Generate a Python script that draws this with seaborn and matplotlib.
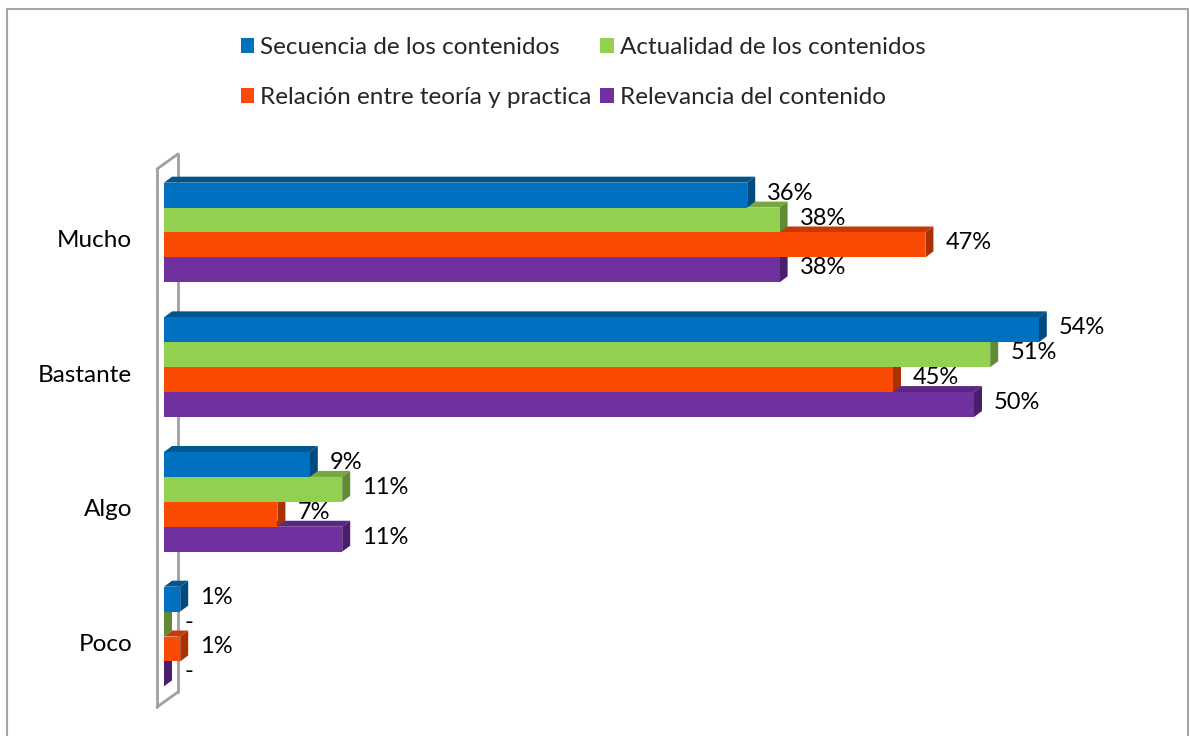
import numpy as np
import pandas as pd
import matplotlib
matplotlib.use("Agg")
import matplotlib.pyplot as plt
import matplotlib.patches as mpatches
import matplotlib.lines as mlines
import matplotlib.transforms as mtransforms
import seaborn as sns

# ── data ──────────────────────────────────────────────────────────────────
categories = ["Mucho", "Bastante", "Algo", "Poco"]
series = ["Secuencia de los contenidos", "Actualidad de los contenidos",
          "Relación entre teoría y practica", "Relevancia del contenido"]
secuencia  = [0.36, 0.54, 0.09, 0.01]
actualidad = [0.38, 0.51, 0.11, 0.00]
relacion   = [0.47, 0.45, 0.07, 0.01]
relevancia = [0.38, 0.50, 0.11, 0.00]

# front / top / side colours per series
front = ["#0070C0", "#92D050", "#FA4A04", "#7030A0"]
top   = ["#00568F", "#77A83F", "#C63A04", "#5A2782"]
side  = ["#004C80", "#5E8B34", "#A93203", "#4A1E6C"]

rows = []
for name, vals in zip(series, [secuencia, actualidad, relacion, relevancia]):
    for cat, v in zip(categories, vals):
        rows.append({"cat": cat, "serie": name, "value": v})
df = pd.DataFrame(rows)

sns.set_theme(style="white")
plt.rcParams["font.family"] = ["Lato", "DejaVu Sans"]

W, H = 1190, 736
fig = plt.figure(figsize=(W / 100, H / 100), dpi=100)

# axes placed in pixel terms so the 3D offsets are easy to convert
ax_left, ax_right = 164, 1136
ax_top, ax_bot = 169.2, 707.9
ax = fig.add_axes([ax_left / W, 1 - ax_bot / H, (ax_right - ax_left) / W, (ax_bot - ax_top) / H])

sns.barplot(data=df, x="value", y="cat", hue="serie", orient="h",
            order=categories, hue_order=series, palette=front,
            saturation=1, width=0.74, errorbar=None, ax=ax, linewidth=0)

xmin, xmax = 0, 0.60
ax.set_xlim(xmin, xmax)
ax.set_ylim(3.53, -0.47)

px_x = (ax_right - ax_left) / (xmax - xmin)
px_y = (ax_bot - ax_top) / 4.0
dxd = 8 / px_x
dyd = 6 / px_y

for h, cont in enumerate(ax.containers):
    z = 2 + (3 - h) * 3
    for bar in cont:
        x0, w = bar.get_x(), bar.get_width()
        y0, bh = bar.get_y(), bar.get_height()
        bar.set_zorder(z + 2)
        ax.add_patch(mpatches.Polygon(
            [(x0, y0), (x0 + w, y0), (x0 + w + dxd, y0 - dyd), (x0 + dxd, y0 - dyd)],
            closed=True, facecolor=top[h], edgecolor="none", zorder=z))
        ax.add_patch(mpatches.Polygon(
            [(x0 + w, y0), (x0 + w, y0 + bh), (x0 + w + dxd, y0 + bh - dyd), (x0 + w + dxd, y0 - dyd)],
            closed=True, facecolor=side[h], edgecolor="none", zorder=z + 1))
        lab = "-" if w == 0 else f"{w * 100:.0f}%"
        ax.annotate(lab, (x0 + w, y0 + bh / 2), xytext=(20, 2), textcoords="offset pixels",
                    ha="left", va="center", fontsize=17, color="black", zorder=30)

# axis cosmetics
sns.despine(ax=ax, left=True, bottom=True, top=True, right=True)
ax.set_xticks([])
ax.set_xlabel("")
ax.set_ylabel("")
ax.tick_params(axis="y", length=0, pad=23, labelsize=17.5, labelcolor="black")
shift = mtransforms.ScaledTranslation(0, -6 / 100, fig.dpi_scale_trans)
for t in ax.get_yticklabels():
    t.set_transform(t.get_transform() + shift)
ax.patch.set_alpha(0)

# wall of the 3D chart
wall = "#A0A0A0"
def fx(p):
    return p / W
def fy(p):
    return 1 - p / H
fig.add_artist(mlines.Line2D([fx(178), fx(178)], [fy(154), fy(692)], color=wall, lw=2, zorder=0))
for xs, ys in [([157, 157], [169, 707]), ([157, 178], [169, 154]), ([157, 178], [707, 692])]:
    fig.add_artist(mlines.Line2D([fx(x) for x in xs], [fy(y) for y in ys], color=wall, lw=2, zorder=5))
ax.set_zorder(2)

# outer frame
fig.add_artist(mpatches.Rectangle((fx(7), fy(760)), fx(1188) - fx(7), fy(9) - fy(760),
                                  fill=False, edgecolor="#A6A6A6", lw=1.5, zorder=0))

# legend
handles, labels = ax.get_legend_handles_labels()
ax.get_legend().remove()
order = [0, 2, 1, 3]
fig.legend([handles[i] for i in order], [labels[i] for i in order],
           loc="upper left", bbox_to_anchor=(241 / W, 1 - 37 / H), ncol=2, frameon=False,
           fontsize=17.5, handlelength=0.55, handleheight=0.55, handletextpad=0.25,
           columnspacing=0.35, labelspacing=1.2, borderpad=0, borderaxespad=0)

fig.savefig("out.png", dpi=100)
